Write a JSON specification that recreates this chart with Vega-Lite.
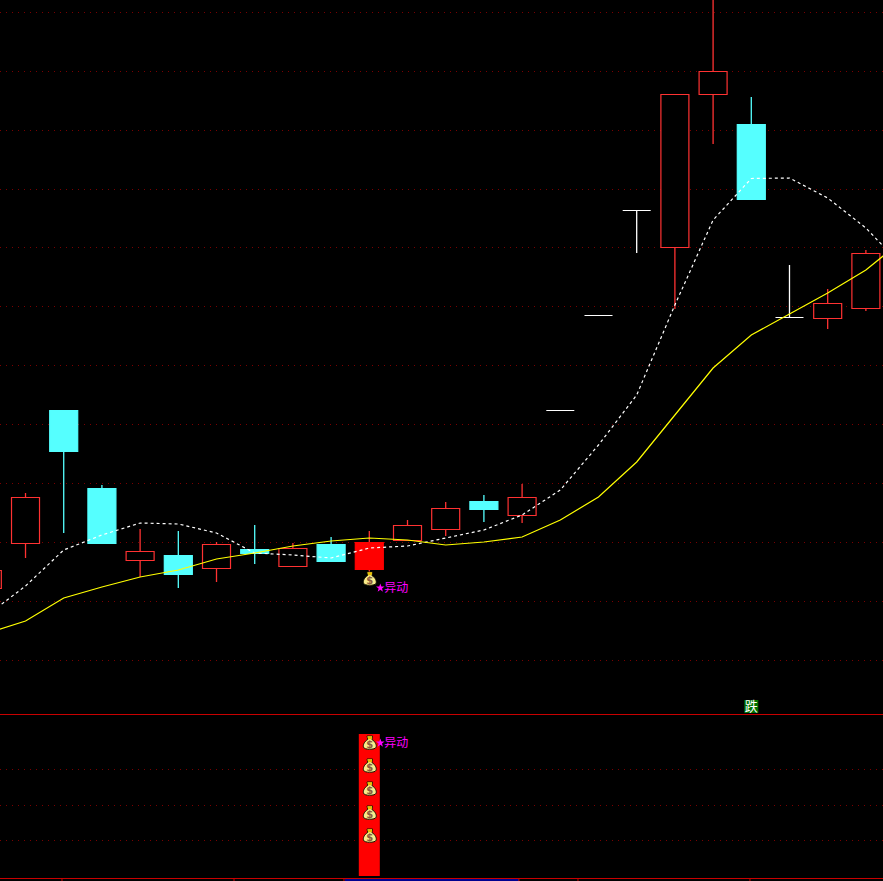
{
"$schema":"https://vega.github.io/schema/vega-lite/v6.json",
"autosize":{"type":"none"},
"width":883,"height":881,"padding":0,"background":"#000000",
"config":{"view":{"stroke":null}},
"datasets":{
"grid":[{"level":868.5},{"level":809.5},{"level":750.5},{"level":691.5},{"level":633.5},{"level":574.5},{"level":515.5},{"level":456.5},{"level":397.5},{"level":338.5},{"level":279.5},{"level":220.5},{"level":111.5},{"level":75.5},{"level":40.5}],
"sep":[{"level":166.5},{"level":2.5}],
"dateTicks":[{"i":0.955},{"i":5.458},{"i":8.337},{"i":12.918},{"i":14.463},{"i":18.965}],
"dateBand":[{"i":8.36,"i2":12.918,"top":2,"bot":0}],
"candles":[
{"i":-1,"top":310.5,"bot":292.5,"high":311,"low":293,"kind":"up"},
{"i":0,"top":383.5,"bot":337.5,"high":388,"low":323,"kind":"up"},
{"i":1,"top":470.5,"bot":429.5,"high":471,"low":348,"kind":"down"},
{"i":2,"top":392.5,"bot":337.5,"high":396,"low":337,"kind":"down"},
{"i":3,"top":329.5,"bot":320.5,"high":352,"low":304,"kind":"up"},
{"i":4,"top":325.5,"bot":306.5,"high":350,"low":293,"kind":"down"},
{"i":5,"top":336.5,"bot":312.5,"high":339,"low":299,"kind":"up"},
{"i":6,"top":331.5,"bot":327.5,"high":356,"low":317,"kind":"down"},
{"i":7,"top":332.5,"bot":314.5,"high":338,"low":314,"kind":"up"},
{"i":8,"top":336.5,"bot":319.5,"high":344,"low":319,"kind":"down"},
{"i":9,"top":338.5,"bot":311.5,"high":350,"low":306,"kind":"limit"},
{"i":10,"top":355.5,"bot":340.5,"high":361,"low":340,"kind":"up"},
{"i":11,"top":372.5,"bot":351.5,"high":379,"low":345,"kind":"up"},
{"i":12,"top":379.5,"bot":371.5,"high":386,"low":359,"kind":"down"},
{"i":13,"top":383.5,"bot":365.5,"high":397,"low":358,"kind":"up"},
{"i":14,"top":470.5,"bot":470.5,"high":471,"low":470,"kind":"flat"},
{"i":15,"top":565.5,"bot":565.5,"high":566,"low":565,"kind":"flat"},
{"i":16,"top":670.5,"bot":670.5,"high":671,"low":628,"kind":"flat"},
{"i":17,"top":786.5,"bot":633.5,"high":786.5,"low":572,"kind":"up"},
{"i":18,"top":809.5,"bot":786.5,"high":900,"low":737,"kind":"up"},
{"i":19,"top":756.5,"bot":681.5,"high":784,"low":681,"kind":"down"},
{"i":20,"top":563.5,"bot":563.5,"high":616,"low":563,"kind":"flat"},
{"i":21,"top":577.5,"bot":562.5,"high":592,"low":552,"kind":"up"},
{"i":22,"top":627.5,"bot":572.5,"high":631,"low":570,"kind":"up"}
],
"ma":[
{"i":-1,"slow":248,"fast":266},{"i":0,"slow":260,"fast":295},{"i":1,"slow":283,"fast":331},{"i":2,"slow":294,"fast":346},{"i":3,"slow":304,"fast":358},{"i":4,"slow":311,"fast":357},{"i":5,"slow":322,"fast":348},{"i":6,"slow":328,"fast":328},{"i":7,"slow":335,"fast":326},{"i":8,"slow":340,"fast":323},{"i":9,"slow":343,"fast":333},{"i":10,"slow":341,"fast":335},{"i":11,"slow":336,"fast":343},{"i":12,"slow":339,"fast":351},{"i":13,"slow":344,"fast":366},{"i":14,"slow":361,"fast":391},{"i":15,"slow":384,"fast":436},{"i":16,"slow":419,"fast":486},{"i":17,"slow":466,"fast":576},{"i":18,"slow":513,"fast":661},{"i":19,"slow":546,"fast":702.5},{"i":20,"slow":567,"fast":703},{"i":21,"slow":588,"fast":683},{"i":22,"slow":611,"fast":653},{"i":23,"slow":642,"fast":613}
],
"signal":[{"i":9,"top":147,"bot":5}],
"bags":[{"i":9,"level":302},{"i":9,"level":138},{"i":9,"level":115},{"i":9,"level":92},{"i":9,"level":68},{"i":9,"level":45}],
"labels":[{"i":9,"level":293,"text":"异动"},{"i":9,"level":138,"text":"异动"}],
"fall":[{"i":19,"top":181,"bot":168,"mid":174.5,"text":"跌"}]
},
"encoding":{
"x":{"field":"i","type":"quantitative","scale":{"domain":[-0.668,22.448],"nice":false,"zero":false,"padding":0},"axis":null},
"y":{"type":"quantitative","scale":{"domain":[0,881],"nice":false,"zero":false},"axis":null}
},
"layer":[
{"data":{"name":"grid"},"mark":{"type":"rule","color":"#7a0000","strokeWidth":1,"strokeDash":[1,5]},"encoding":{"x":{"value":0},"x2":{"value":883},"y":{"field":"level","type":"quantitative","axis":null}}},
{"data":{"name":"sep"},"mark":{"type":"rule","color":"#c80000","strokeWidth":1},"encoding":{"x":{"value":0},"x2":{"value":883},"y":{"field":"level","type":"quantitative","axis":null}}},
{"data":{"name":"dateBand"},"mark":{"type":"rect","color":"#000090"},"encoding":{"x2":{"field":"i2"},"y":{"field":"top","type":"quantitative","axis":null},"y2":{"field":"bot"}}},
{"data":{"name":"dateTicks"},"mark":{"type":"rule","color":"#c80000","strokeWidth":1},"encoding":{"y":{"datum":3},"y2":{"datum":0}}},
{"data":{"name":"candles"},"mark":{"type":"rule","strokeWidth":1.3,"clip":true},"encoding":{"y":{"field":"high","type":"quantitative","axis":null},"y2":{"field":"low"},"color":{"field":"kind","type":"nominal","legend":null,"scale":{"domain":["up","down","limit","flat"],"range":["#ff3232","#55ffff","#ff3232","#ffffff"]}}}},
{"data":{"name":"candles"},"mark":{"type":"bar","size":28,"strokeWidth":1.2,"strokeJoin":"miter","clip":true},"encoding":{"y":{"field":"top","type":"quantitative","axis":null},"y2":{"field":"bot"},"fill":{"field":"kind","type":"nominal","legend":null,"scale":{"domain":["up","down","limit","flat"],"range":["#000000","#55ffff","#ff0000","#ffffff"]}},"stroke":{"field":"kind","type":"nominal","legend":null,"scale":{"domain":["up","down","limit","flat"],"range":["#ff3232","#55ffff","#ff0000","#ffffff"]}}}},
{"data":{"name":"ma"},"mark":{"type":"line","color":"#ffffff","strokeWidth":1.2,"strokeDash":[3,3],"clip":true},"encoding":{"y":{"field":"fast","type":"quantitative","axis":null}}},
{"data":{"name":"ma"},"mark":{"type":"line","color":"#ffff00","strokeWidth":1.2,"clip":true},"encoding":{"y":{"field":"slow","type":"quantitative","axis":null}}},
{"data":{"name":"signal"},"mark":{"type":"bar","size":21,"color":"#ff0000"},"encoding":{"y":{"field":"top","type":"quantitative","axis":null},"y2":{"field":"bot"}}},
{"data":{"name":"bags"},"mark":{"type":"point","filled":true,"size":196,"fill":"#f8ec8c","stroke":"#141400","strokeWidth":1,"opacity":1,"xOffset":0.5,"shape":"M-0.4,-1 L0.4,-1 L0.3,-0.5 C0.8,-0.2 1,0.3 0.9,0.6 C0.8,1 -0.8,1 -0.9,0.6 C-1,0.3 -0.8,-0.2 -0.3,-0.5 Z"},"encoding":{"y":{"field":"level","type":"quantitative","axis":null}}},
{"data":{"name":"bags"},"mark":{"type":"point","filled":true,"size":196,"fill":"#e8c000","opacity":1,"xOffset":0.5,"shape":"M-0.35,-0.95 L0.35,-0.95 L0.25,-0.55 L-0.25,-0.55 Z"},"encoding":{"y":{"field":"level","type":"quantitative","axis":null}}},
{"data":{"name":"bags"},"mark":{"type":"text","text":"$","font":"DejaVu Sans","fontSize":10,"fontWeight":"bold","color":"#8a5a3c","dy":2,"dx":0.5},"encoding":{"y":{"field":"level","type":"quantitative","axis":null}}},
{"data":{"name":"labels"},"mark":{"type":"point","shape":"M0,-1 L0.24,-0.33 L0.95,-0.31 L0.38,0.13 L0.59,0.81 L0,0.41 L-0.59,0.81 L-0.38,0.13 L-0.95,-0.31 L-0.24,-0.33 Z","filled":true,"size":81,"fill":"#ff00ff","opacity":1,"xOffset":11},"encoding":{"y":{"field":"level","type":"quantitative","axis":null}}},
{"data":{"name":"labels"},"mark":{"type":"text","font":"Noto Sans CJK SC","fontSize":12,"color":"#ff00ff","align":"left","baseline":"middle","dx":15},"encoding":{"y":{"field":"level","type":"quantitative","axis":null},"text":{"field":"text","type":"nominal"}}},
{"data":{"name":"fall"},"mark":{"type":"bar","size":14,"color":"#007000"},"encoding":{"y":{"field":"top","type":"quantitative","axis":null},"y2":{"field":"bot"}}},
{"data":{"name":"fall"},"mark":{"type":"text","font":"Noto Sans CJK SC","fontSize":13,"color":"#ffffff","align":"center","baseline":"middle"},"encoding":{"y":{"field":"mid","type":"quantitative","axis":null},"text":{"field":"text","type":"nominal"}}}
]
}
